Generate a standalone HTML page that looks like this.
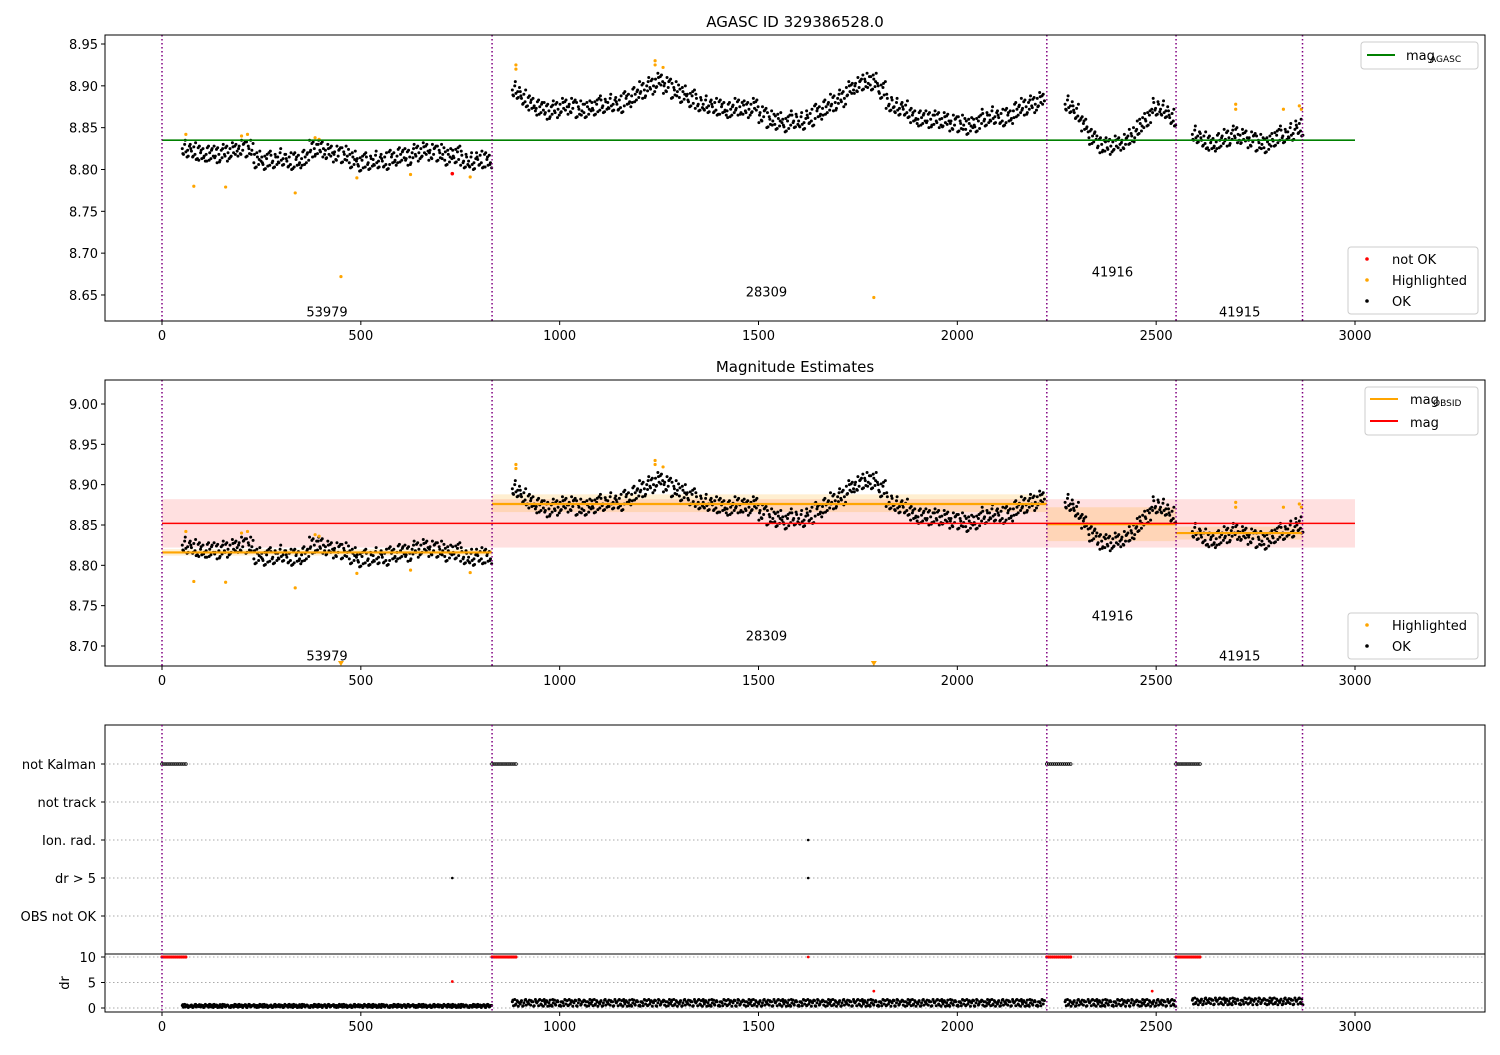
<!DOCTYPE html>
<html><head><meta charset="utf-8"><style>
body{margin:0;background:#fff;font-family:"Liberation Sans","DejaVu Sans",sans-serif}
svg text{font-family:"DejaVu Sans","Liberation Sans",sans-serif}
</style></head><body>
<svg id="chart" width="1500" height="1050" viewBox="0 0 1500 1050" xmlns="http://www.w3.org/2000/svg"></svg>
<script>
// ---- data ----
const segStarts = [60, 890, 2280, 2600];
const segStep = 20;
const seg1Mags = [8.825,8.822,8.82,8.82,8.818,8.82,8.822,8.825,8.825,8.812,8.81,8.812,8.815,8.81,8.812,8.815,8.825,8.825,8.82,8.818,8.818,8.812,8.808,8.81,8.812,8.81,8.815,8.818,8.815,8.82,8.822,8.82,8.82,8.815,8.818,8.812,8.81,8.812,8.812];
const seg2Mags = [8.895,8.885,8.88,8.875,8.87,8.872,8.875,8.875,8.872,8.872,8.875,8.878,8.88,8.878,8.885,8.89,8.895,8.9,8.905,8.9,8.895,8.89,8.885,8.88,8.878,8.875,8.875,8.872,8.875,8.872,8.875,8.865,8.86,8.858,8.855,8.86,8.858,8.862,8.87,8.875,8.88,8.885,8.895,8.9,8.905,8.905,8.895,8.88,8.875,8.872,8.865,8.862,8.86,8.86,8.858,8.855,8.855,8.852,8.855,8.862,8.865,8.862,8.865,8.872,8.875,8.878,8.882];
const seg3Mags = [8.878,8.868,8.855,8.84,8.83,8.828,8.83,8.832,8.84,8.852,8.862,8.875,8.872,8.862];
const seg4Mags = [8.842,8.835,8.832,8.835,8.838,8.842,8.838,8.835,8.832,8.83,8.838,8.842,8.845,8.85];
const segDr = [0.4, 1.0, 1.0, 1.3];
const obsidBounds = [0, 830, 2225, 2550, 2868];
const obsidLabels = ["53979","28309","41916","41915"];
const obsidLabelX = [415, 1520, 2390, 2710];
const obsidLabelY1 = [8.63, 8.654, 8.678, 8.63];
const obsidLabelY2 = [8.688, 8.713, 8.738, 8.688];
const obsidMeans = [8.816, 8.876, 8.851, 8.84];
const obsidLo = [8.812, 8.866, 8.83, 8.832];
const obsidHi = [8.82, 8.888, 8.872, 8.848];
const hlT = [60,80,160,200,215,335,385,395,450,490,625,775,890,890,1240,1240,1260,1790,2700,2700,2820,2860,2865];
const hlM = [8.842,8.78,8.779,8.84,8.842,8.772,8.838,8.836,8.672,8.79,8.794,8.791,8.925,8.92,8.93,8.925,8.922,8.647,8.878,8.872,8.872,8.876,8.872];
const notOkT = [730];
const notOkM = [8.795];
const agascMag = 8.835;
const meanMag = 8.852, meanLo = 8.822, meanHi = 8.882;
const flagCats = ["not Kalman","not track","Ion. rad.","dr > 5","OBS not OK"];
const ionT = [1625]; const dr5T = [730, 1625];
const drRedT = [730, 1625, 1790, 2490];
const drRedV = [5.2, 10, 3.3, 3.3];
const xTicks = [0,500,1000,1500,2000,2500,3000];

// ---- helpers ----
const svg = document.getElementById('chart');
const NS = 'http://www.w3.org/2000/svg';
function mk(tag, attrs, parent){const e=document.createElementNS(NS,tag);for(const k in attrs)e.setAttribute(k,attrs[k]);(parent||svg).appendChild(e);return e;}
const X = t => 162 + t * (1193/3000);
const Y1 = m => 44 + (8.95 - m) / 0.05 * 41.83;
const Y2 = m => 404 + (9.00 - m) / 0.05 * 40.33;
const YC = i => 764 + i * 38;
const YD = v => 1008 - v * 5.1;
const jitY = [0,-0.009,0.006,-0.004,0.010,-0.007,0.003,0.008,-0.010,-0.002,0.005,-0.006];
const jitX = [-9,-6,-3,0,3,6,9,-7.5,-1.5,4.5];
const jitD = [0.1,-0.25,0.3,-0.1,0.2,-0.3,0,0.25,-0.2,0.1];
const segs = [seg1Mags, seg2Mags, seg3Mags, seg4Mags];

function frame(top,bottom,name){
  mk('rect',{x:105,y:top,width:1380,height:bottom-top,fill:'none',stroke:'#000','stroke-width':1});
  xTicks.forEach(t=>{mk('line',{x1:X(t),x2:X(t),y1:bottom,y2:bottom+4,stroke:'#000'});
    const tx=mk('text',{x:X(t),y:bottom+19,'text-anchor':'middle','font-size':13});tx.textContent=t;});
}
function yTicks(vals,fn,dec){vals.forEach(v=>{mk('line',{x1:101,x2:105,y1:fn(v),y2:fn(v),stroke:'#000'});
  const tx=mk('text',{x:98,y:fn(v)+5,'text-anchor':'end','font-size':13});tx.textContent=v.toFixed(dec);});}
function vlines(top,bottom){obsidBounds.forEach(t=>{mk('line',{x1:X(t),x2:X(t),y1:top,y2:bottom,stroke:'#800080','stroke-width':1.5,'stroke-dasharray':'1.5,2.5'});});}
function points(fn,g){
  segs.forEach((arr,si)=>arr.forEach((m,i)=>{const t=segStarts[si]+i*segStep;
    jitX.forEach((dx,j)=>{mk('circle',{cx:X(t+dx),cy:fn(m+jitY[(i*7+j*5)%12]),r:1.5,fill:'#000'},g);});}));
}
function text(x,y,s,size,anchor,name){const t=mk('text',{x:x,y:y,'font-size':size||13,'text-anchor':anchor||'middle'});t.textContent=s;if(name){}return t;}

// ---- panel 1 ----
text(795,27,'AGASC ID 329386528.0',15,'middle','title-top');
const g1=mk('g',{});
points(Y1,g1);
hlT.forEach((t,i)=>{if(Y1(hlM[i])<321)mk('circle',{cx:X(t),cy:Y1(hlM[i]),r:1.6,fill:'orange'},g1);});
notOkT.forEach((t,i)=>mk('circle',{cx:X(t),cy:Y1(notOkM[i]),r:1.8,fill:'red'},g1));
mk('line',{x1:X(0),x2:X(3000),y1:Y1(agascMag),y2:Y1(agascMag),stroke:'green','stroke-width':1.6});
vlines(35,321);
obsidLabels.forEach((l,i)=>text(X(obsidLabelX[i]),Y1(obsidLabelY1[i])+5,l,13,'middle','obsid-label-top'));
frame(35,321,'top-axes');
yTicks([8.65,8.70,8.75,8.80,8.85,8.90,8.95],Y1,2);
mk('rect',{x:1361,y:42,width:117,height:27,fill:'#fff',stroke:'#ccc',rx:3});
mk('line',{x1:1367,x2:1395,y1:55,y2:55,stroke:'green','stroke-width':2});
text(1406,60,'mag',13,'start');text(1430,62,'AGASC',9,'start');
const lg1=mk('g',{});
mk('rect',{x:1348,y:247,width:130,height:67,fill:'#fff',stroke:'#ccc',rx:3},lg1);
[['red','not OK',259],['orange','Highlighted',280],['#000','OK',301]].forEach(e=>{mk('circle',{cx:1367,cy:e[2],r:1.8,fill:e[0]},lg1);text(1392,e[2]+5,e[1],13,'start');});

// ---- panel 2 ----
text(795,372,'Magnitude Estimates',15,'middle','title-middle');
mk('rect',{x:X(0),y:Y2(meanHi),width:X(3000)-X(0),height:Y2(meanLo)-Y2(meanHi),fill:'rgba(255,0,0,0.12)'});
obsidMeans.forEach((m,i)=>{mk('rect',{x:X(obsidBounds[i]),y:Y2(obsidHi[i]),width:X(obsidBounds[i+1])-X(obsidBounds[i]),height:Y2(obsidLo[i])-Y2(obsidHi[i]),fill:'rgba(255,165,0,0.18)'});});
const g2=mk('g',{});
points(Y2,g2);
hlT.forEach((t,i)=>{const y=Y2(hlM[i]);if(y<666)mk('circle',{cx:X(t),cy:y,r:1.6,fill:'orange'},g2);else mk('path',{d:`M${X(t)-3},661 L${X(t)+3},661 L${X(t)},666 Z`,fill:'orange'},g2);});
obsidMeans.forEach((m,i)=>{mk('line',{x1:X(obsidBounds[i]),x2:X(obsidBounds[i+1]),y1:Y2(m),y2:Y2(m),stroke:'orange','stroke-width':2.2});});
mk('line',{x1:X(0),x2:X(3000),y1:Y2(meanMag),y2:Y2(meanMag),stroke:'red','stroke-width':1.6});
vlines(380,666);
obsidLabels.forEach((l,i)=>text(X(obsidLabelX[i]),Y2(obsidLabelY2[i])+5,l,13,'middle','obsid-label-middle'));
frame(380,666,'middle-axes');
yTicks([8.70,8.75,8.80,8.85,8.90,8.95,9.00],Y2,2);
mk('rect',{x:1365,y:387,width:113,height:48,fill:'#fff',stroke:'#ccc',rx:3});
mk('line',{x1:1370,x2:1398,y1:399,y2:399,stroke:'orange','stroke-width':2});text(1410,404,'mag',13,'start');text(1433,406,'OBSID',9,'start');
mk('line',{x1:1370,x2:1398,y1:421,y2:421,stroke:'red','stroke-width':2});text(1410,427,'mag',13,'start');
mk('rect',{x:1348,y:613,width:130,height:46,fill:'#fff',stroke:'#ccc',rx:3});
mk('circle',{cx:1367,cy:625,r:1.8,fill:'orange'});text(1392,630,'Highlighted',13,'start');
mk('circle',{cx:1367,cy:646,r:1.8,fill:'#000'});text(1392,651,'OK',13,'start');

// ---- panel 3 ----
mk('rect',{x:105,y:725,width:1380,height:287,fill:'none',stroke:'#000'});
flagCats.forEach((c,i)=>{mk('line',{x1:105,x2:1485,y1:YC(i),y2:YC(i),stroke:'#aaa','stroke-dasharray':'1.5,2.5'});
  mk('line',{x1:101,x2:105,y1:YC(i),y2:YC(i),stroke:'#000'});text(96,YC(i)+5,c,13,'end','flag-label');});
[0,5,10].forEach(v=>{mk('line',{x1:105,x2:1485,y1:YD(v),y2:YD(v),stroke:'#aaa','stroke-dasharray':'1.5,2.5'});mk('line',{x1:101,x2:105,y1:YD(v),y2:YD(v),stroke:'#000'});text(96,YD(v)+5,v,13,'end');});
mk('line',{x1:105,x2:1485,y1:954,y2:954,stroke:'#000'});
const ty=text(0,0,'dr',13,'middle','dr-axis-title');ty.setAttribute('transform','translate(69,983) rotate(-90)');
const g3=mk('g',{});
obsidBounds.slice(0,4).forEach(b=>{for(let t=b;t<=b+60;t+=5){mk('circle',{cx:X(t),cy:YC(0),r:1.4,fill:'none',stroke:'#000','stroke-width':0.8},g3);mk('circle',{cx:X(t),cy:YD(10),r:1.6,fill:'red'},g3);}});
ionT.forEach(t=>mk('circle',{cx:X(t),cy:YC(2),r:1.3,fill:'#000'},g3));
dr5T.forEach(t=>mk('circle',{cx:X(t),cy:YC(3),r:1.3,fill:'#000'},g3));
drRedT.forEach((t,i)=>mk('circle',{cx:X(t),cy:YD(drRedV[i]),r:1.4,fill:'red'},g3));
segs.forEach((arr,si)=>arr.forEach((m,i)=>{const t=segStarts[si]+i*segStep;
  jitX.forEach((dx,j)=>mk('circle',{cx:X(t+dx),cy:YD(segDr[si]+jitD[(i*3+j)%10]*(si?2.2:1)),r:1.5,fill:'#000'},g3));}));
vlines(725,1012);
xTicks.forEach(t=>{mk('line',{x1:X(t),x2:X(t),y1:1012,y2:1016,stroke:'#000'});text(X(t),1031,t,13);});
</script>
</body></html>
